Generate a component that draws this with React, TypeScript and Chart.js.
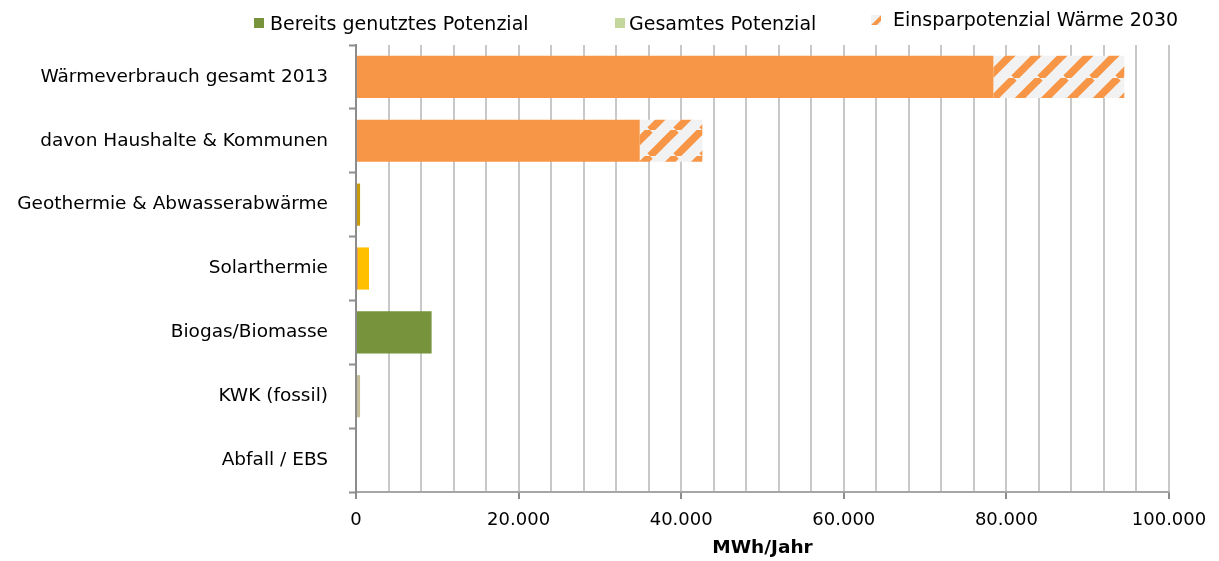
import React, { useEffect, useRef } from 'react';
import { Chart, registerables } from 'chart.js';

Chart.register(...registerables);

const categories = [
  'Wärmeverbrauch gesamt 2013',
  'davon Haushalte & Kommunen',
  'Geothermie & Abwasserabwärme',
  'Solarthermie',
  'Biogas/Biomasse',
  'KWK (fossil)',
  'Abfall / EBS',
];

const seriesLabels = ['Bereits genutztes Potenzial', 'Gesamtes Potenzial', 'Einsparpotenzial Wärme 2030'];

// MWh/Jahr
const usedValues = [78400, 34900, 500, 200, 9300, 500, 0];
const remainingPotentialValues = [0, 0, 0, 1400, 0, 0, 0];
const savings2030Values = [16100, 7700, 0, 0, 0, 0, 0];

const usedColors = ['#F79646', '#F79646', '#C79A0B', '#E46C0A', '#77933C', '#C4BD97', '#C4BD97'];
const remainingColors = ['#C3D69B', '#C3D69B', '#C3D69B', '#FFC000', '#C3D69B', '#C3D69B', '#C3D69B'];
const legendColors = ['#77933C', '#C3D69B', 'hatch'];

const xMin = 0;
const xMax = 100000;
const gridStep = 4000;
const labelStep = 20000;
const axisTitle = 'MWh/Jahr';

const FONT = "'DejaVu Sans', sans-serif";

function formatDE(v: number): string {
  return String(v).replace(/\B(?=(\d{3})+(?!\d))/g, '.');
}

function makeHatch(): CanvasPattern | string {
  const s = 26;
  const c = document.createElement('canvas');
  c.width = s;
  c.height = s;
  const g = c.getContext('2d');
  if (!g) return '#F79646';
  g.fillStyle = '#F2F2F2';
  g.fillRect(0, 0, s, s);
  g.strokeStyle = '#F79646';
  g.lineWidth = 7.5;
  for (const k of [-s, 0, s]) {
    g.beginPath();
    g.moveTo(k, s);
    g.lineTo(k + s, 0);
    g.stroke();
  }
  const p = g.createPattern(c, 'repeat');
  return p || '#F79646';
}

const legendPositions = [
  { box: [254, 18], textX: 270, baseline: 30 },
  { box: [615, 18], textX: 629, baseline: 30 },
  { box: [871, 15], textX: 893, baseline: 26 },
];

const customLegend = {
  id: 'customLegend',
  afterDraw(chart: any) {
    const ctx = chart.ctx as CanvasRenderingContext2D;
    ctx.save();
    seriesLabels.forEach((label, i) => {
      const pos = legendPositions[i];
      const [bx, by] = pos.box;
      const size = 10;
      if (legendColors[i] === 'hatch') {
        ctx.save();
        ctx.beginPath();
        ctx.rect(bx, by, size, size);
        ctx.clip();
        ctx.fillStyle = '#F2F2F2';
        ctx.fillRect(bx, by, size, size);
        ctx.strokeStyle = '#F79646';
        ctx.lineWidth = 4;
        ctx.beginPath();
        ctx.moveTo(bx + 1, by + size + 2);
        ctx.lineTo(bx + size + 2, by + 1);
        ctx.stroke();
        ctx.restore();
      } else {
        ctx.fillStyle = legendColors[i];
        ctx.fillRect(bx, by, size, size);
      }
      ctx.fillStyle = '#000000';
      ctx.font = `19px ${FONT}`;
      ctx.textAlign = 'left';
      ctx.textBaseline = 'alphabetic';
      ctx.fillText(label, pos.textX, pos.baseline);
    });
    ctx.restore();
  },
};

export default function App() {
  const ref = useRef<HTMLCanvasElement | null>(null);

  useEffect(() => {
    document.body.style.margin = '0';
    const canvas = ref.current;
    if (!canvas) return;
    const hatch = makeHatch();

    const chart = new Chart(canvas, {
      type: 'bar',
      data: {
        labels: categories,
        datasets: [
          {
            label: seriesLabels[0],
            data: usedValues,
            backgroundColor: usedColors,
            borderWidth: 0,
            barPercentage: 0.66,
            categoryPercentage: 1,
          },
          {
            label: seriesLabels[1],
            data: remainingPotentialValues,
            backgroundColor: remainingColors,
            borderWidth: 0,
            barPercentage: 0.66,
            categoryPercentage: 1,
          },
          {
            label: seriesLabels[2],
            data: savings2030Values,
            backgroundColor: hatch as any,
            borderWidth: 0,
            barPercentage: 0.66,
            categoryPercentage: 1,
          },
        ],
      },
      options: {
        indexAxis: 'y',
        responsive: false,
        animation: false,
        devicePixelRatio: 1,
        layout: { padding: { top: 45, right: 50, bottom: 0, left: 0 } },
        plugins: {
          legend: { display: false },
          tooltip: { enabled: false },
        },
        scales: {
          x: {
            stacked: true,
            min: xMin,
            max: xMax,
            afterFit(scale: any) {
              scale.height = 69;
            },
            ticks: {
              stepSize: gridStep,
              autoSkip: false,
              maxRotation: 0,
              padding: 11,
              color: '#000000',
              font: { family: FONT, size: 18 },
              callback: (v: any) => (Number(v) % labelStep === 0 ? formatDE(Number(v)) : ''),
            },
            grid: {
              color: '#C8C8C8',
              lineWidth: 2,
              tickLength: 7,
              tickColor: (ctx: any) =>
                ctx.tick && ctx.tick.value % labelStep === 0 ? '#8C8C8C' : 'rgba(0,0,0,0)',
              tickWidth: 2,
            },
            border: { display: true, color: '#A6A6A6', width: 2 },
            title: {
              display: true,
              text: axisTitle,
              color: '#000000',
              font: { family: FONT, size: 18.5, weight: 'bold' },
              padding: { top: 4, bottom: 2 },
            },
          },
          y: {
            stacked: true,
            afterFit(scale: any) {
              scale.width = 356;
            },
            ticks: {
              padding: 21,
              color: '#000000',
              font: { family: FONT, size: 18.5 },
            },
            grid: {
              display: true,
              drawOnChartArea: false,
              offset: true,
              tickLength: 7,
              tickColor: '#8C8C8C',
              tickWidth: 2,
            },
            border: { display: true, color: '#8C8C8C', width: 2 },
          },
        },
      },
      plugins: [customLegend],
    });

    return () => {
      chart.destroy();
    };
  }, []);

  return (
    <div style={{ width: 1219, height: 561 }}>
      <canvas ref={ref} width={1219} height={561} style={{ display: 'block' }} />
    </div>
  );
}
